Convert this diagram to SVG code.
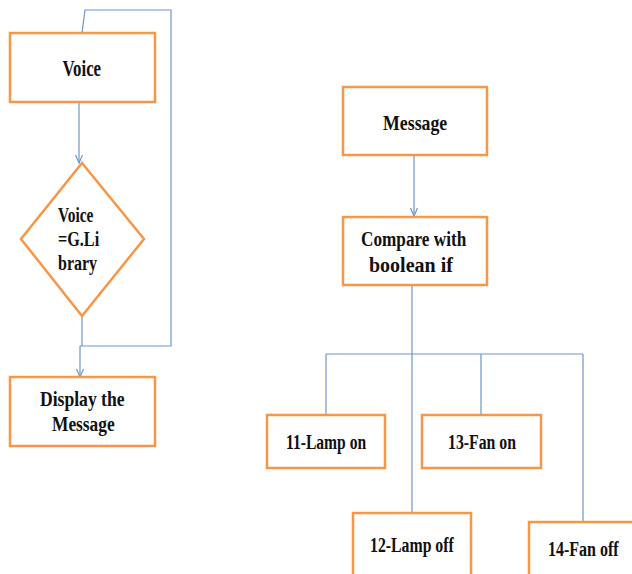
<svg xmlns="http://www.w3.org/2000/svg" width="632" height="574" viewBox="0 0 632 574">
<style>
.box{fill:#fff;stroke:#F79646;stroke-width:2.5}
.ln{fill:none;stroke:#6F95CC;stroke-width:1.2}
.t{font-family:"Liberation Serif","Times New Roman",serif;font-weight:bold;fill:#111}
.l{font-size:24px}
.m{font-size:22px}
.s{font-size:20px}
</style>
<defs>
<marker id="ah" markerWidth="10" markerHeight="10" refX="9" refY="5" orient="auto" markerUnits="userSpaceOnUse" viewBox="0 0 10 10">
<path d="M1,1.5 L9,5 L1,8.5" fill="none" stroke="#6F95CC" stroke-width="1.2"/>
</marker>
</defs>
<rect width="632" height="574" fill="#fff"/>
<g id="connectors">
<path class="ln" d="M82,33 L85,10 L171,10 L171,346 L80,346"/>
<path class="ln" d="M79,102 L79,163" marker-end="url(#ah)"/>
<path class="ln" d="M82,316 L82,346"/>
<path class="ln" d="M80,346 L80,377" marker-end="url(#ah)"/>
<path class="ln" d="M414,155 L414,216" marker-end="url(#ah)"/>
<path class="ln" d="M412,285 L412,513 M326,354 L583,354 M326,354 L326,415 M481,354 L481,415 M583,354 L583,522"/>
</g>
<g id="voice">
<rect class="box" x="10" y="33" width="145" height="69"/>
<text class="t l" transform="translate(62.5,76) scale(0.70,1)">Voice</text>
</g>
<g id="decision">
<polygon class="box" points="82,163 144,239 82,316 21,239"/>
<text class="t s" transform="translate(58,222) scale(0.77,1)">Voice</text>
<text class="t s" transform="translate(58,246) scale(0.81,1)">=G.Li</text>
<text class="t s" transform="translate(58,270) scale(0.80,1)">brary</text>
</g>
<g id="display">
<rect class="box" x="10" y="377" width="145" height="69"/>
<text class="t m" transform="translate(40,406) scale(0.80,1)">Display the</text>
<text class="t m" transform="translate(52,431) scale(0.79,1)">Message</text>
</g>
<g id="message">
<rect class="box" x="343" y="87" width="144" height="68"/>
<text class="t m" transform="translate(383,130) scale(0.81,1)">Message</text>
</g>
<g id="compare">
<rect class="box" x="343" y="217" width="144" height="68"/>
<text class="t s" transform="translate(361,246) scale(0.86,1)">Compare with</text>
<text class="t s" transform="translate(369,272) scale(1.0,1)">boolean if</text>
</g>
<g id="lamp-on">
<rect class="box" x="267" y="415" width="118" height="53"/>
<text class="t s" transform="translate(286,449) scale(0.78,1)">11-Lamp on</text>
</g>
<g id="fan-on">
<rect class="box" x="422" y="415" width="119" height="53"/>
<text class="t s" transform="translate(448,449) scale(0.79,1)">13-Fan on</text>
</g>
<g id="lamp-off">
<rect class="box" x="353" y="513" width="118" height="70"/>
<text class="t s" transform="translate(370,552) scale(0.79,1)">12-Lamp off</text>
</g>
<g id="fan-off">
<rect class="box" x="529" y="522" width="110" height="70"/>
<text class="t s" transform="translate(548,556) scale(0.80,1)">14-Fan off</text>
</g>
</svg>
